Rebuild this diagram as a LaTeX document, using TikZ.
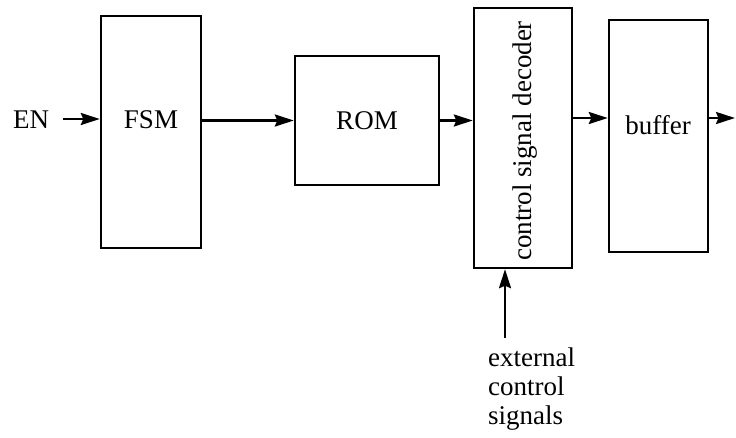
\documentclass[tikz,border=0pt]{standalone}
\usepackage{fontspec}
\setmainfont{Liberation Serif}
\usetikzlibrary{arrows.meta}
\begin{document}
\begin{tikzpicture}[x=1pt,y=-1pt,
  blk/.style={draw,line width=2.4pt,inner sep=0pt,rectangle},
  lbl/.style={font=\fontsize{27}{29}\selectfont,inner sep=0pt},
  arr/.style={line width=2.4pt,-{Stealth[length=19pt,width=12pt,inset=2.5pt]}}]
\useasboundingbox (0,0) rectangle (736,437);
% blocks
\node[blk,minimum width=100pt,minimum height=232pt] (fsm) at (151,132) {};
\node[blk,lbl,minimum width=144pt,minimum height=129pt] (rom) at (367,120.5) {ROM};
\node[blk,minimum width=98pt,minimum height=260pt] (dec) at (523,138) {};
\node[blk,minimum width=99pt,minimum height=232pt] (buf) at (658.5,136) {};
% labels
\node[lbl] (en) at (31,120) {EN};
\node[lbl] (fsmtxt) at (151,120) {FSM};
\node[lbl,rotate=90] (dectxt) at (525,141) {control signal decoder};
\node[lbl] (buftxt) at (658,125) {buffer};
\node[lbl,align=left,anchor=north west] (ext) at (488,348) {external\\control\\signals};
% connectors
\coordinate (enend) at (63,119);
\coordinate (out) at (735,118);
\coordinate (extin) at (505,338);
\draw[arr] (enend) -- (enend -| fsm.west);
\draw[arr] (rom.west -| fsm.east) -- (rom.west);
\draw[arr] (rom.east) -- (rom.east -| dec.west);
\draw[arr] (out -| dec.east) -- (out -| buf.west);
\draw[arr] (out -| buf.east) -- (out);
\draw[arr] (extin) -- (extin |- dec.south);
\end{tikzpicture}
\end{document}
